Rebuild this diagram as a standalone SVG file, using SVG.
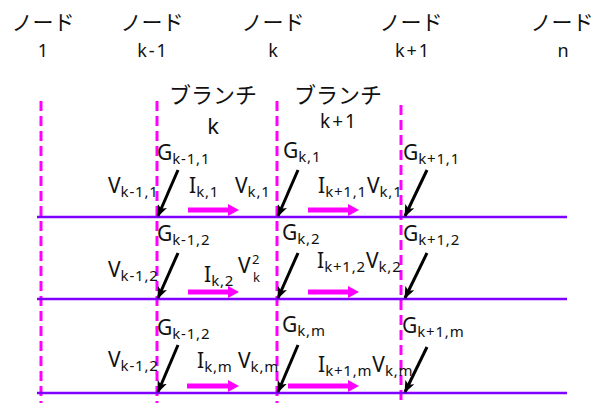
<svg xmlns="http://www.w3.org/2000/svg" width="601" height="403" viewBox="0 0 601 403">
<style>
.jp{font-family:"Noto Sans CJK JP","Noto Sans",sans-serif;font-size:21px;fill:#111;text-anchor:middle}
.num{font-family:"Noto Sans","Noto Sans CJK JP",sans-serif;font-size:18px;fill:#111;text-anchor:middle;letter-spacing:2px}
.lb{font-family:"Noto Sans","Noto Sans CJK JP",sans-serif;font-size:21px;fill:#111}
.sb{font-size:15px;letter-spacing:0.8px}
.dash{stroke:#ff00ff;stroke-width:3;stroke-dasharray:10 5;fill:none}
.bus{stroke:#7f00ff;stroke-width:2.5;fill:none}
.g{stroke:#000;stroke-width:3;fill:none;marker-end:url(#ah)}
.cur{stroke:#ff00ff;stroke-width:5;fill:none;marker-end:url(#mh)}
</style>
<defs>
<marker id="ah" markerUnits="userSpaceOnUse" viewBox="0 0 12 10" refX="11" refY="5" markerWidth="12" markerHeight="10" orient="auto">
<path d="M0,0 L12,5 L0,10 L3,5 Z" fill="#000"/>
</marker>
<marker id="mh" markerUnits="userSpaceOnUse" viewBox="0 0 11 12" refX="2" refY="6" markerWidth="11" markerHeight="12" orient="auto">
<path d="M0,0 L11,6 L0,12 Z" fill="#ff00ff"/>
</marker>
</defs>

<g id="node-1"><text class="jp" x="43" y="30">ノード</text><text class="num" x="44" y="57">1</text></g>
<g id="node-k-1"><text class="jp" x="152" y="30">ノード</text><text class="num" x="153" y="57">k-1</text></g>
<g id="node-k"><text class="jp" x="273" y="30">ノード</text><text class="num" x="274" y="57">k</text></g>
<g id="node-k+1"><text class="jp" x="411" y="30">ノード</text><text class="num" x="413" y="57">k+1</text></g>
<g id="node-n"><text class="jp" x="562" y="30">ノード</text><text class="num" x="564" y="57">n</text></g>

<g id="branch-k"><text class="jp" x="213" y="103" style="font-size:22px">ブランチ</text><text class="num" x="214" y="134" style="font-size:22px">k</text></g>
<g id="branch-k+1"><text class="jp" x="338" y="103" style="font-size:22px">ブランチ</text><text class="num" x="339" y="128" style="font-size:19px">k+1</text></g>

<g id="lines">
<line class="dash" x1="41" y1="101" x2="41" y2="403"/>
<line class="dash" x1="157" y1="101" x2="157" y2="403"/>
<line class="dash" x1="277" y1="101" x2="277" y2="403"/>
<line class="dash" x1="401" y1="105" x2="401" y2="403"/>
<line class="bus" x1="37" y1="217" x2="567" y2="217"/>
<line class="bus" x1="37" y1="299" x2="567" y2="299"/>
<line class="bus" x1="37" y1="393" x2="567" y2="393"/>
</g>

<g id="connectors">
<line class="g" x1="178" y1="170" x2="158" y2="216"/>
<line class="g" x1="298" y1="170" x2="278" y2="216"/>
<line class="g" x1="427" y1="170" x2="405" y2="216"/>
<line class="g" x1="178" y1="253" x2="158" y2="298"/>
<line class="g" x1="298" y1="253" x2="278" y2="298"/>
<line class="g" x1="427" y1="253" x2="405" y2="298"/>
<line class="g" x1="178" y1="345" x2="158" y2="392"/>
<line class="g" x1="298" y1="345" x2="278" y2="392"/>
<line class="g" x1="427" y1="347" x2="405" y2="392"/>
<line class="cur" x1="188" y1="210" x2="230" y2="210"/>
<line class="cur" x1="308" y1="210" x2="350" y2="210"/>
<line class="cur" x1="188" y1="292" x2="230" y2="292"/>
<line class="cur" x1="308" y1="292" x2="350" y2="292"/>
<line class="cur" x1="187" y1="386" x2="230" y2="386"/>
<line class="cur" x1="288" y1="386" x2="350" y2="386"/>
</g>

<g id="row1">
<text class="lb" x="157" y="160">G<tspan class="sb" dy="4">k-1,1</tspan></text>
<text class="lb" x="108" y="193">V<tspan class="sb" dy="4">k-1,1</tspan></text>
<text class="lb" x="189" y="193">I<tspan class="sb" dy="4">k,1</tspan></text>
<text class="lb" x="235" y="193">V<tspan class="sb" dy="4">k,1</tspan></text>
<text class="lb" x="283" y="158">G<tspan class="sb" dy="4">k,1</tspan></text>
<text class="lb" x="318" y="193">I<tspan class="sb" dy="4">k+1,1</tspan><tspan dy="-4">V</tspan><tspan class="sb" dy="4">k,1</tspan></text>
<text class="lb" x="403" y="160">G<tspan class="sb" dy="4">k+1,1</tspan></text>
</g>

<g id="row2">
<text class="lb" x="157" y="241">G<tspan class="sb" dy="4">k-1,2</tspan></text>
<text class="lb" x="108" y="277">V<tspan class="sb" dy="4">k-1,2</tspan></text>
<text class="lb" x="204" y="282">I<tspan class="sb" dy="4">k,2</tspan></text>
<text class="lb" x="238" y="273">V<tspan class="sb" x="252" y="264" style="font-size:13px">2</tspan><tspan class="sb" x="253" y="282" style="font-size:13px">k</tspan></text>
<text class="lb" x="282" y="240">G<tspan class="sb" dy="4">k,2</tspan></text>
<text class="lb" x="317" y="268">I<tspan class="sb" dy="4">k+1,2</tspan><tspan dy="-4">V</tspan><tspan class="sb" dy="4">k,2</tspan></text>
<text class="lb" x="403" y="241">G<tspan class="sb" dy="4">k+1,2</tspan></text>
</g>

<g id="row3">
<text class="lb" x="157" y="335">G<tspan class="sb" dy="4">k-1,2</tspan></text>
<text class="lb" x="108" y="367">V<tspan class="sb" dy="4">k-1,2</tspan></text>
<text class="lb" x="197" y="368">I<tspan class="sb" dy="4">k,m</tspan></text>
<text class="lb" x="238" y="368">V<tspan class="sb" dy="4">k,m</tspan></text>
<text class="lb" x="282" y="332">G<tspan class="sb" dy="4">k,m</tspan></text>
<text class="lb" x="318" y="372">I<tspan class="sb" dy="4">k+1,m</tspan><tspan dy="-4">V</tspan><tspan class="sb" dy="4">k,m</tspan></text>
<text class="lb" x="402" y="333">G<tspan class="sb" dy="4">k+1,m</tspan></text>
</g>
</svg>
